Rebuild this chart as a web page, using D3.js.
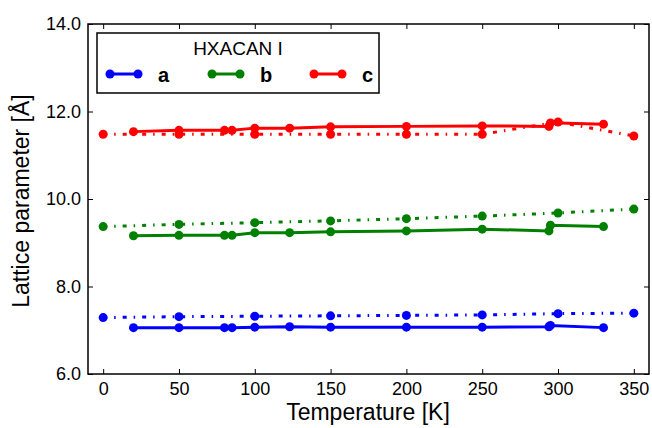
<!DOCTYPE html>
<html>
<head>
<meta charset="utf-8">
<script src="https://cdn.jsdelivr.net/npm/d3@7"></script>
<style>
  body { margin: 0; background: #fff; }
  text { font-family: "Liberation Sans", Arial, sans-serif; }
</style>
</head>
<body>
<div id="chart"></div>
<script>
// measured temperatures (solid lines)
const tempMeas = [20, 50, 80, 85, 100, 123, 150, 200, 250, 294, 295, 330];
const aMeas = [7.06, 7.06, 7.06, 7.06, 7.07, 7.08, 7.07, 7.07, 7.07, 7.08, 7.11, 7.06];
const bMeas = [9.16, 9.17, 9.17, 9.17, 9.23, 9.23, 9.25, 9.27, 9.31, 9.27, 9.40, 9.37];
const cMeas = [11.54, 11.57, 11.57, 11.57, 11.62, 11.62, 11.65, 11.66, 11.67, 11.66, 11.74, 11.71];

// calculated temperatures (dash-dot lines)
const tempCalc = [0, 50, 100, 150, 200, 250, 300, 350];
const aCalc = [7.29, 7.31, 7.32, 7.33, 7.34, 7.35, 7.38, 7.39];
const bCalc = [9.37, 9.42, 9.46, 9.50, 9.55, 9.61, 9.68, 9.77];
const cCalc = [11.48, 11.48, 11.48, 11.48, 11.48, 11.48, 11.76, 11.44];

const xTicks = [0, 50, 100, 150, 200, 250, 300, 350];
const yTicks = [6, 8, 10, 12, 14];

const series = [
    {name: "a", color: "#0000ff", meas: aMeas, calc: aCalc},
    {name: "b", color: "#008000", meas: bMeas, calc: bCalc},
    {name: "c", color: "#ff0000", meas: cMeas, calc: cCalc}
];

const width = 652, height = 428;
const margin = {top: 24, right: 3, bottom: 54, left: 88};
const plotW = width - margin.left - margin.right,
      plotH = height - margin.top - margin.bottom;

const svg = d3.select('#chart')
    .append('svg')
    .attr('width', width)
    .attr('height', height);

const graph = svg.append('g')
    .attr('transform', `translate(${margin.left},${margin.top})`);

const x = d3.scaleLinear().domain([-10, 360]).range([0, plotW]);
const y = d3.scaleLinear().domain([6, 14]).range([plotH, 0]);

// lines + markers
const line = d3.line().x(d => x(d[0])).y(d => y(d[1]));

series.forEach(s => {
    const calc = tempCalc.map((t, i) => [t, s.calc[i]]);
    const meas = tempMeas.map((t, i) => [t, s.meas[i]]);

    graph.append('path')
        .datum(calc)
        .attr('d', line)
        .attr('fill', 'none')
        .attr('stroke', s.color)
        .attr('stroke-width', 3)
        .attr('stroke-dasharray', '4,7,1.5,7');
    graph.append('g')
        .selectAll('circle')
        .data(calc)
        .enter()
        .append('circle')
        .attr('cx', d => x(d[0]))
        .attr('cy', d => y(d[1]))
        .attr('r', 4.5)
        .attr('fill', s.color);

    graph.append('path')
        .datum(meas)
        .attr('d', line)
        .attr('fill', 'none')
        .attr('stroke', s.color)
        .attr('stroke-width', 3);
    graph.append('g')
        .selectAll('circle')
        .data(meas)
        .enter()
        .append('circle')
        .attr('cx', d => x(d[0]))
        .attr('cy', d => y(d[1]))
        .attr('r', 4.5)
        .attr('fill', s.color);
});

// axes, ticks inside on all four sides
const tickLen = 5;
const styleAxis = g => {
    g.select('.domain').remove();
    g.selectAll('line').attr('stroke', '#000').attr('stroke-width', 1);
    g.selectAll('text').attr('font-size', 18).attr('fill', '#000');
};

graph.append('g')
    .attr('transform', `translate(0,${plotH})`)
    .call(d3.axisBottom(x).tickValues(xTicks).tickSizeInner(-tickLen).tickSizeOuter(0).tickPadding(8).tickFormat(d3.format('d')))
    .call(styleAxis);
graph.append('g')
    .call(d3.axisTop(x).tickValues(xTicks).tickSizeInner(-tickLen).tickSizeOuter(0).tickFormat(''))
    .call(styleAxis);
graph.append('g')
    .call(d3.axisLeft(y).tickValues(yTicks).tickSizeInner(-tickLen).tickSizeOuter(0).tickPadding(7).tickFormat(d3.format('.1f')))
    .call(styleAxis);
graph.append('g')
    .attr('transform', `translate(${plotW},0)`)
    .call(d3.axisRight(y).tickValues(yTicks).tickSizeInner(-tickLen).tickSizeOuter(0).tickFormat(''))
    .call(styleAxis);

graph.append('rect')
    .attr('width', plotW)
    .attr('height', plotH)
    .attr('fill', 'none')
    .attr('stroke', '#000')
    .attr('stroke-width', 1.5);

// axis titles
svg.append('text')
    .attr('x', 368)
    .attr('y', 420)
    .attr('text-anchor', 'middle')
    .attr('font-size', 23)
    .text('Temperature [K]');
svg.append('text')
    .attr('transform', `translate(29,201) rotate(-90)`)
    .attr('text-anchor', 'middle')
    .attr('font-size', 23)
    .text('Lattice parameter [Å]');

// legend
const legend = svg.append('g').attr('transform', 'translate(97,33)');
legend.append('rect')
    .attr('width', 282)
    .attr('height', 60)
    .attr('fill', '#fff')
    .attr('stroke', '#000')
    .attr('stroke-width', 1.5);
legend.append('text')
    .attr('x', 141)
    .attr('y', 22)
    .attr('text-anchor', 'middle')
    .attr('font-size', 19)
    .text('HXACAN I');

const legItems = legend.selectAll('g.item')
    .data(series)
    .enter()
    .append('g')
    .attr('class', 'item')
    .attr('transform', (d, i) => `translate(${13 + i * 102},41)`);
legItems.append('line')
    .attr('x1', 0).attr('x2', 28)
    .attr('stroke', d => d.color)
    .attr('stroke-width', 3);
legItems.selectAll('circle')
    .data(d => [0, 28].map(cx => ({cx, color: d.color})))
    .enter()
    .append('circle')
    .attr('cx', d => d.cx)
    .attr('r', 4.5)
    .attr('fill', d => d.color);
legItems.append('text')
    .attr('x', 48)
    .attr('y', 8)
    .attr('font-size', 20)
    .attr('font-weight', 'bold')
    .text(d => d.name);
</script>
</body>
</html>
